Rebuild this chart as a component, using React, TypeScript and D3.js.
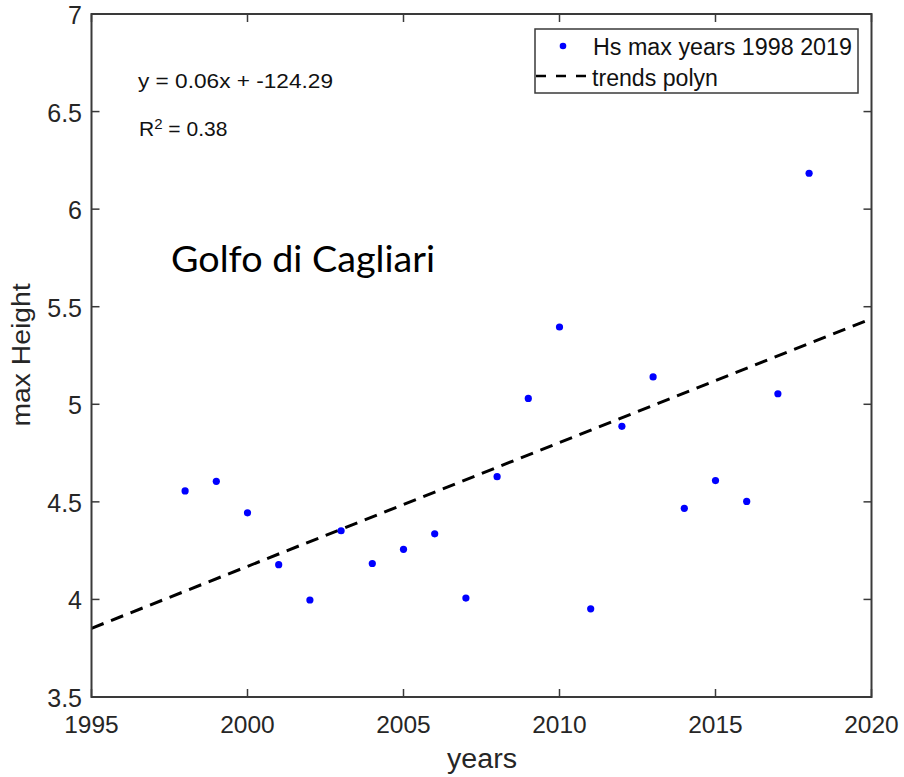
import React from "react";
import * as d3 from "d3";

// Annual maximum significant wave height, Golfo di Cagliari
const years = [1998, 1999, 2000, 2001, 2002, 2003, 2004, 2005, 2006, 2007, 2008, 2009, 2010, 2011, 2012, 2013, 2014, 2015, 2016, 2017, 2018];
const maxHeights = [4.556, 4.605, 4.444, 4.178, 3.997, 4.352, 4.184, 4.257, 4.336, 4.007, 4.629, 5.03, 5.396, 3.952, 4.887, 5.14, 4.467, 4.609, 4.502, 5.054, 6.184];

// Linear trend endpoints
const trendYears = [1995, 2020];
const trendHeights = [3.852, 5.439];

const xTicks = [1995, 2000, 2005, 2010, 2015, 2020];
const yTicks = [3.5, 4, 4.5, 5, 5.5, 6, 6.5, 7];

const legendLabels = ["Hs max years 1998 2019", "trends polyn"];
const equationText = "y = 0.06x + -124.29";
const r2Value = "0.38";
const siteName = "Golfo di Cagliari";

const W = 904;
const H = 777;
const left = 91.5;
const right = 871.5;
const top = 14;
const bottom = 697;

const axisColor = "#3a3a3a";
const font = "'Liberation Sans', Arial, Helvetica, sans-serif";

export default function App() {
  const x = d3.scaleLinear().domain([1995, 2020]).range([left, right]);
  const y = d3.scaleLinear().domain([3.5, 7]).range([bottom, top]);

  const trendLine = d3
    .line<number>()
    .x((_, i) => x(trendYears[i]))
    .y((d) => y(d))(trendHeights);

  const tickLen = 8;

  return (
    <svg
      width={W}
      height={H}
      viewBox={`0 0 ${W} ${H}`}
      style={{ position: "absolute", left: 0, top: 0, background: "#fff" }}
    >
      <defs>
        <clipPath id="plot-clip">
          <rect x={left} y={top} width={right - left} height={bottom - top} />
        </clipPath>
      </defs>
      <rect x={0} y={0} width={W} height={H} fill="#fff" />

      {/* trend line */}
      <path
        d={trendLine ?? ""}
        fill="none"
        stroke="#000"
        strokeWidth={3}
        strokeDasharray="13,8"
        clipPath="url(#plot-clip)"
      />

      {/* observations */}
      {years.map((yr, i) => (
        <circle key={yr} cx={x(yr)} cy={y(maxHeights[i])} r={3.6} fill="#0000ff" />
      ))}

      {/* axes box */}
      <rect
        x={left}
        y={top}
        width={right - left}
        height={bottom - top}
        fill="none"
        stroke={axisColor}
        strokeWidth={2}
      />

      {/* x ticks */}
      {xTicks.map((t) => (
        <g key={`x${t}`}>
          <line x1={x(t)} x2={x(t)} y1={bottom} y2={bottom - tickLen} stroke={axisColor} strokeWidth={1.5} />
          <line x1={x(t)} x2={x(t)} y1={top} y2={top + tickLen} stroke={axisColor} strokeWidth={1.5} />
          <text
            x={x(t)}
            y={733}
            textAnchor="middle"
            fontFamily={font}
            fontSize={24.5}
            fill="#262626"
          >
            {t}
          </text>
        </g>
      ))}

      {/* y ticks */}
      {yTicks.map((t) => (
        <g key={`y${t}`}>
          <line x1={left} x2={left + tickLen} y1={y(t)} y2={y(t)} stroke={axisColor} strokeWidth={1.5} />
          <line x1={right} x2={right - tickLen} y1={y(t)} y2={y(t)} stroke={axisColor} strokeWidth={1.5} />
          <text
            x={82}
            y={y(t) + 10}
            textAnchor="end"
            fontFamily={font}
            fontSize={25}
            fill="#262626"
          >
            {t}
          </text>
        </g>
      ))}

      {/* axis labels */}
      <text
        x={482}
        y={768}
        textAnchor="middle"
        fontFamily={font}
        fontSize={27}
        fill="#262626"
        textLength={70}
        lengthAdjust="spacingAndGlyphs"
      >
        years
      </text>
      <text
        transform="translate(30,355) rotate(-90)"
        textAnchor="middle"
        fontFamily={font}
        fontSize={26}
        fill="#262626"
        textLength={143}
        lengthAdjust="spacingAndGlyphs"
      >
        max Height
      </text>

      {/* fit annotation */}
      <text
        x={138}
        y={88}
        fontFamily={font}
        fontSize={21}
        fill="#111"
        textLength={195}
        lengthAdjust="spacingAndGlyphs"
      >
        {equationText}
      </text>
      <text x={139} y={136} fontFamily={font} fontSize={21} fill="#111">
        R
        <tspan fontSize={15} dy={-7}>2</tspan>
        <tspan dy={7}>{` = ${r2Value}`}</tspan>
      </text>

      {/* site name */}
      <text
        x={171}
        y={272}
        fontFamily="Lato, 'Open Sans', sans-serif"
        fontSize={36}
        fill="#000"
        textLength={264}
        lengthAdjust="spacingAndGlyphs"
      >
        {siteName}
      </text>

      {/* legend */}
      <g>
        <rect x={535} y={29} width={323} height={64} fill="#fff" stroke={axisColor} strokeWidth={1.5} />
        <circle cx={563} cy={46} r={3.3} fill="#0000ff" />
        <text
          x={593}
          y={55}
          fontFamily={font}
          fontSize={23}
          fill="#111"
          textLength={259}
          lengthAdjust="spacingAndGlyphs"
        >
          {legendLabels[0]}
        </text>
        <line
          x1={536}
          x2={591}
          y1={76}
          y2={76}
          stroke="#000"
          strokeWidth={2.5}
          strokeDasharray="10,10"
        />
        <text
          x={592}
          y={86}
          fontFamily={font}
          fontSize={23}
          fill="#111"
          textLength={126}
          lengthAdjust="spacingAndGlyphs"
        >
          {legendLabels[1]}
        </text>
      </g>
    </svg>
  );
}
